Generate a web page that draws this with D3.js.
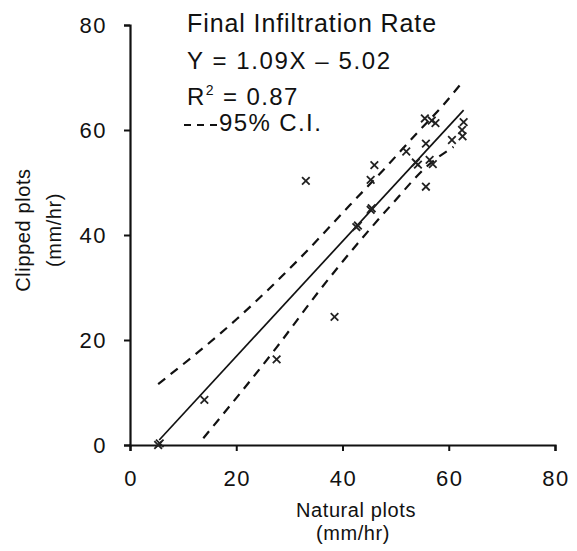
<!DOCTYPE html>
<html>
<head>
<meta charset="utf-8">
<script src="https://cdn.jsdelivr.net/npm/d3@7"></script>
<style>
  html, body { margin: 0; padding: 0; background: #fff; }
  svg { display: block; }
  text { font-family: "Liberation Sans", Arial, Helvetica, sans-serif; fill: #111; }
</style>
</head>
<body>
<svg id="chart" width="577" height="551"></svg>
<script>
// ---- data ----
const xTicks = [0, 20, 40, 60, 80];
const yTicks = [0, 20, 40, 60, 80];
const naturalPlots = [5.3, 5.6, 14.0, 27.6, 33.1, 38.5, 42.6, 42.9, 45.3, 45.5, 45.3, 46.0, 52.0, 53.8, 54.2,
  55.5, 56.8, 57.5, 55.7, 56.4, 57.0, 55.7, 60.6, 62.8, 62.5, 62.6];
const clippedPlots = [0.0, 0.3, 8.6, 16.3, 50.3, 24.4, 41.5, 41.8, 44.8, 45.1, 50.5, 53.3, 55.9, 53.8, 53.4,
  62.2, 61.8, 61.3, 57.4, 54.3, 53.5, 49.2, 58.1, 61.5, 60.0, 58.8];
const fitX = [5.5, 62.8];
const fitY = [0.95, 63.8];
const upperX = [5.3, 20.1, 32.0, 41.4, 47.7, 54.0, 59.0, 62.3];
const upperY = [11.6, 24.0, 35.6, 45.7, 52.4, 59.4, 64.8, 68.8];
const lowerX = [13.8, 27.6, 35.8, 42.7, 49.6, 55.8, 60.9];
const lowerY = [1.3, 18.6, 29.6, 38.2, 46.2, 53.0, 56.8];
const titleText = "Final Infiltration Rate";
const eqText = "Y = 1.09X \u2013 5.02";
const ciText = "95% C.I.";

// ---- layout ----
const svg = d3.select("#chart");
svg.append("rect").attr("width", 577).attr("height", 551).attr("fill", "#fff");

const x = d3.scaleLinear().domain([0, 80]).range([130, 555]);
const y = d3.scaleLinear().domain([0, 80]).range([445, 25]);

// axes
const xAxis = svg.append("g").attr("transform", "translate(0,445)")
  .call(d3.axisBottom(x).tickValues(xTicks).tickSize(6).tickFormat(""));
const yAxis = svg.append("g").attr("transform", "translate(130,0)")
  .call(d3.axisLeft(y).tickValues(yTicks).tickSize(6).tickFormat(""));
[xAxis, yAxis].forEach(g => {
  g.select(".domain").attr("stroke", "#111").attr("stroke-width", 2.2);
  g.selectAll(".tick line").attr("stroke", "#111").attr("stroke-width", 2);
});

// tick labels
svg.append("g").selectAll("text").data(xTicks).join("text")
  .attr("x", d => x(d) + 1).attr("y", 486)
  .attr("text-anchor", "middle").attr("font-size", 22).attr("letter-spacing", 1.5)
  .text(d => d);
svg.append("g").selectAll("text").data(yTicks).join("text")
  .attr("x", 107).attr("y", d => y(d)).attr("dy", "0.36em")
  .attr("text-anchor", "end").attr("font-size", 22).attr("letter-spacing", 1.5)
  .text(d => d);

// axis titles
svg.append("text").attr("x", 356).attr("y", 517).attr("text-anchor", "middle")
  .attr("font-size", 20).attr("letter-spacing", 0.6).text("Natural plots");
svg.append("text").attr("x", 353).attr("y", 540).attr("text-anchor", "middle")
  .attr("font-size", 20).attr("letter-spacing", 0.6).text("(mm/hr)");
svg.append("text").attr("transform", "translate(30,230) rotate(-90)").attr("text-anchor", "middle")
  .attr("font-size", 20).attr("letter-spacing", 0.6).text("Clipped plots");
svg.append("text").attr("transform", "translate(61,230) rotate(-90)").attr("text-anchor", "middle")
  .attr("font-size", 20).attr("letter-spacing", 0.6).text("(mm/hr)");

// lines
const line = d3.line().x(d => x(d[0])).y(d => y(d[1]));
svg.append("path").datum(d3.zip(fitX, fitY)).attr("d", line)
  .attr("fill", "none").attr("stroke", "#111").attr("stroke-width", 1.7);
svg.append("path").datum(d3.zip(upperX, upperY)).attr("d", line.curve(d3.curveMonotoneX))
  .attr("fill", "none").attr("stroke", "#111").attr("stroke-width", 2.2).attr("stroke-dasharray", "9,7");
svg.append("path").datum(d3.zip(lowerX, lowerY)).attr("d", line.curve(d3.curveMonotoneX))
  .attr("fill", "none").attr("stroke", "#111").attr("stroke-width", 2.2).attr("stroke-dasharray", "9,7");

// points (x markers)
const pts = d3.zip(naturalPlots, clippedPlots);
const s = 3.8;
const pg = svg.append("g").attr("stroke", "#222").attr("stroke-width", 1.8).attr("fill", "none");
pg.selectAll("path").data(pts).join("path")
  .attr("d", d => {
    const cx = x(d[0]), cy = y(d[1]);
    return `M${cx - s},${cy - s}L${cx + s},${cy + s}M${cx - s},${cy + s}L${cx + s},${cy - s}`;
  });

// legend / annotation
svg.append("text").attr("x", 187).attr("y", 32).attr("font-size", 25).attr("letter-spacing", 0.9).text(titleText);
svg.append("text").attr("x", 187).attr("y", 69).attr("font-size", 24).attr("letter-spacing", 1.6).text(eqText);
const r2 = svg.append("text").attr("x", 187).attr("y", 105).attr("font-size", 24).attr("letter-spacing", 1.4);
r2.append("tspan").text("R");
r2.append("tspan").attr("font-size", 14).attr("dy", -10).text("2");
r2.append("tspan").attr("dy", 10).text(" = 0.87");
svg.append("line").attr("x1", 184).attr("x2", 218).attr("y1", 125).attr("y2", 125)
  .attr("stroke", "#111").attr("stroke-width", 2.2).attr("stroke-dasharray", "7,6");
svg.append("text").attr("x", 219).attr("y", 131).attr("font-size", 24).attr("letter-spacing", 1.4).text(ciText);
</script>
</body>
</html>
